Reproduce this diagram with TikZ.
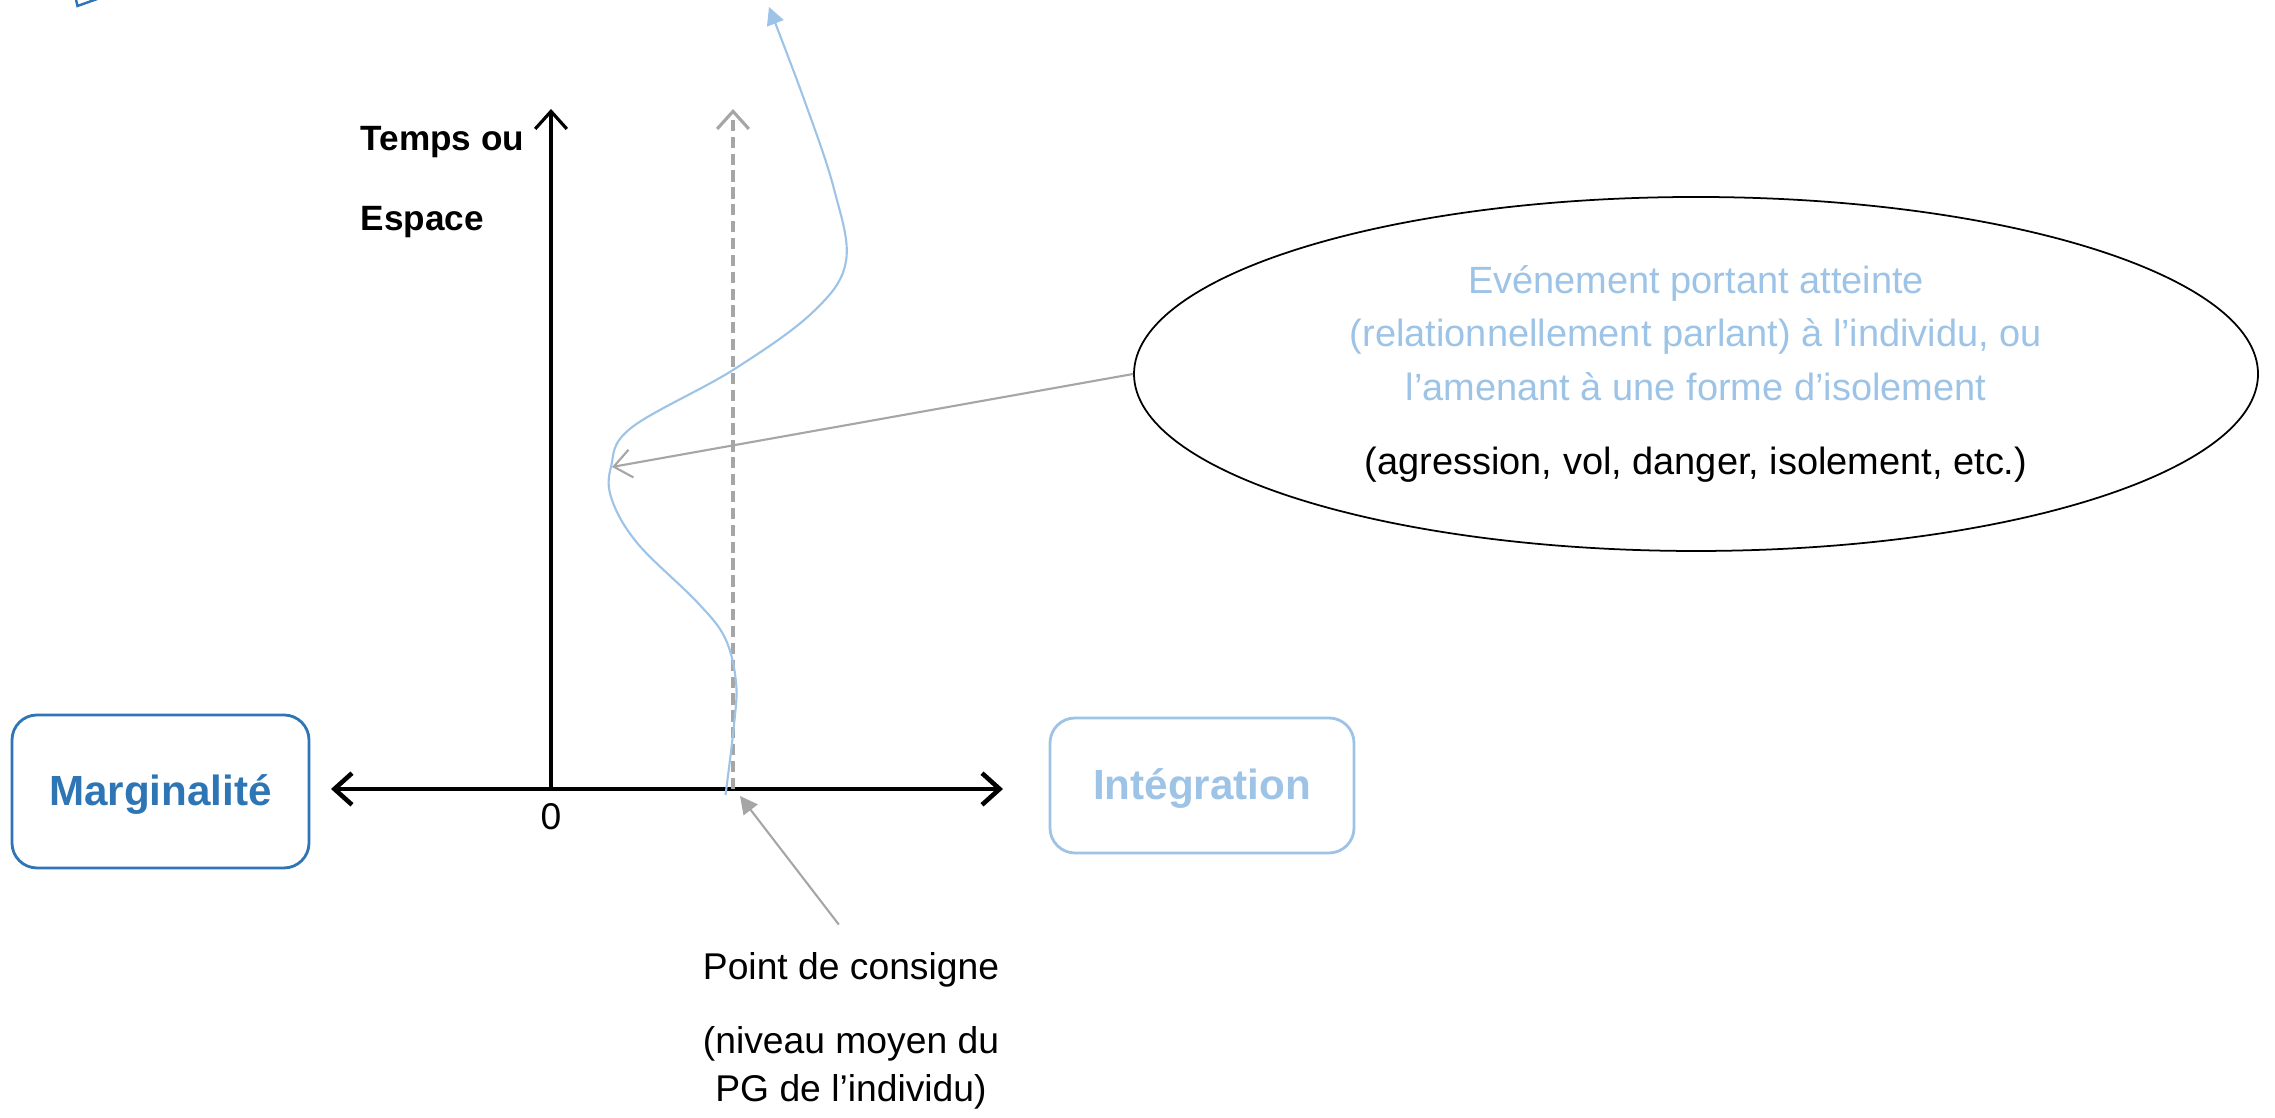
\documentclass[tikz,border=0pt]{standalone}
\usepackage{fontspec}
\setmainfont{Liberation Sans}
\usepackage{xcolor}
\usepackage{tikz}
\usetikzlibrary{arrows.meta,calc,positioning,shapes.geometric}
\definecolor{pgink}{HTML}{000000}
\definecolor{pgblue}{HTML}{2E75B6}
\definecolor{pglight}{HTML}{9DC3E6}
\definecolor{pggray}{HTML}{A6A6A6}

\begin{document}
\begin{tikzpicture}[
    x=1cm,
    y=1cm,
    >=Stealth,
    axis/.style={{Straight Barb[length=5pt,width=9pt]}-{Straight Barb[length=5pt,width=9pt]}, line width=1.3pt, draw=pgink},
    axisup/.style={-{Straight Barb[length=5pt,width=9pt]}, line width=0.9pt, draw=pgink},
    setline/.style={-{Straight Barb[length=5pt,width=9pt]}, line width=0.9pt, draw=pggray, dash pattern=on 3.2pt off 1.6pt},
    pointer/.style={-{Straight Barb[length=5pt,width=8pt]}, line width=0.6pt, draw=pggray},
    marker/.style={-{Triangle[length=5pt,width=5pt]}, line width=0.6pt, draw=pggray},
    curve/.style={-{Triangle[length=5pt,width=5pt]}, line width=0.6pt, draw=pglight},
    box/.style={rounded corners=0.25cm, line width=0.8pt, text height=8.6pt, text depth=0.4pt, font=\fontsize{12}{14}\selectfont\bfseries}
  ]
    \useasboundingbox (0,0) rectangle (22.75,11.18);

    % stray shape, top left
    \draw[pgblue, line width=0.7pt] (0.745,11.25) -- (0.775,11.12) -- (1.00,11.20);

    \coordinate (origin) at (5.51,3.29);
    \coordinate (ytip) at (5.51,10.09);
    \coordinate (xleft) at (3.31,3.29);
    \coordinate (xright) at (10.03,3.29);
    \coordinate (setbase) at (7.33,3.29);
    \coordinate (settop) at (7.33,10.09);
    \coordinate (settip) at (7.40,3.22);
    \coordinate (peak) at (6.12,6.51);

    % 1. Poles
    \node[box, draw=pgblue, text=pgblue, minimum width=2.97cm, minimum height=1.53cm] (N-marg) at (1.605,3.265) {Marginalité};
    \node[box, draw=pglight, text=pglight, minimum width=3.04cm, minimum height=1.35cm] (N-integ) at (12.02,3.325) {Intégration};

    % 2. Axes
    \draw[axis] (xleft) -- (xright);
    \draw[axisup] (origin) -- (ytip);
    \node[below=0.02cm of origin, font=\fontsize{10.6}{12}\selectfont] (L-zero) {0};
    \node[anchor=north west, inner sep=0pt, align=left, font=\fontsize{10}{22.7}\selectfont\bfseries] (L-axis) at (3.60,9.92)
      {Temps ou\\Espace};

    % 3. Set point and trajectory
    \draw[setline] (setbase) -- (settop);
    \draw[curve] plot[smooth, tension=0.6] coordinates {
      (7.255,3.23) (7.34,3.93) (7.36,4.36) (7.25,4.80) (6.97,5.16) (6.38,5.74)
      (6.12,6.18) (6.11,6.51) (6.31,6.90) (7.33,7.48) (8.13,8.06) (8.46,8.57)
      (8.34,9.29) (8.05,10.16) (7.69,11.11)};

    % 4. Event
    \node[ellipse, draw=pgink, line width=0.5pt, minimum width=11.24cm, minimum height=3.54cm, inner sep=0pt,
      align=center, font=\fontsize{10.8}{15.2}\selectfont] (N-event) at (16.96,7.44) {
      \textcolor{pglight}{Evénement portant atteinte}\\
      \textcolor{pglight}{(relationnellement parlant) à l’individu, ou}\\
      \textcolor{pglight}{l’amenant à une forme d’isolement}\\[6pt]
      (agression, vol, danger, isolement, etc.)
    };
    \draw[pointer] (N-event.west) -- (peak);

    % 5. Set point label
    \node[align=center, font=\fontsize{10.6}{13.6}\selectfont] (L-consigne) at (8.51,0.87) {
      Point de consigne\\[7.4pt]
      (niveau moyen du\\
      PG de l’individu)
    };
    \draw[marker, shorten <=0.2cm] (L-consigne.north) -- (settip);

  \end{tikzpicture}
\end{document}
